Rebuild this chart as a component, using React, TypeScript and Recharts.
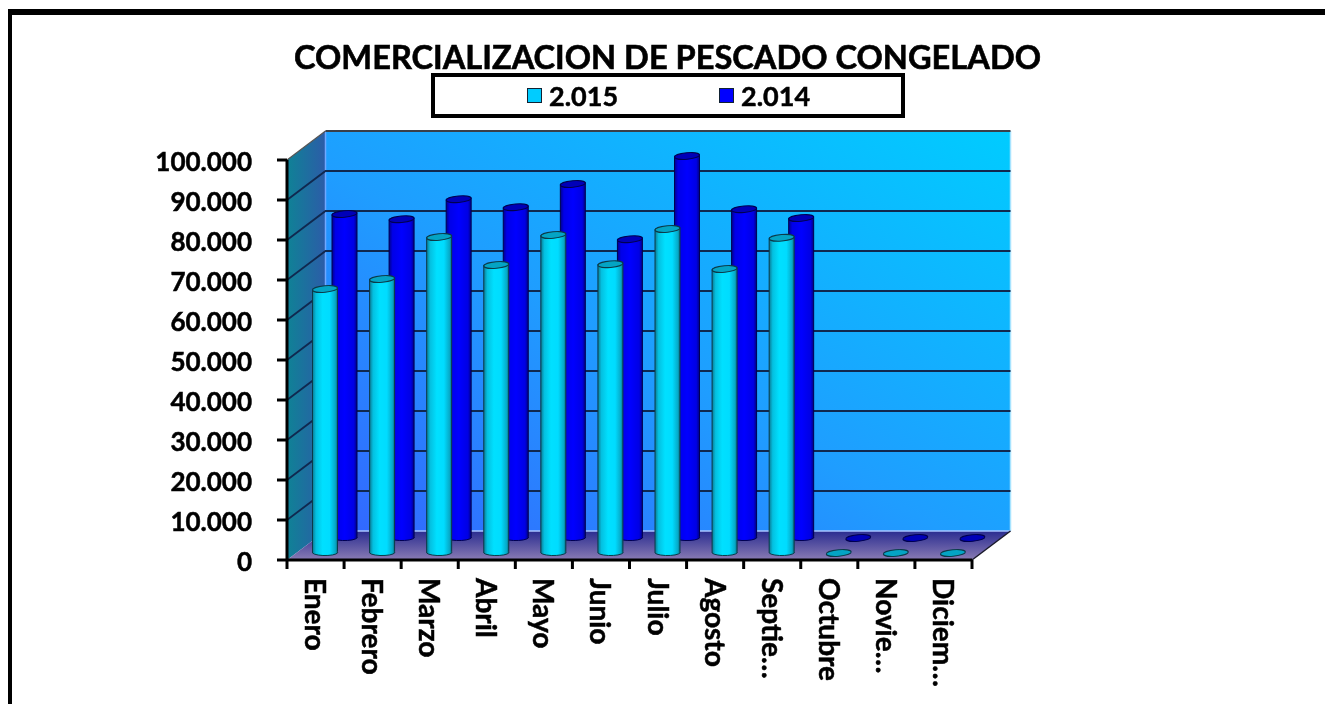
import React from 'react';
import { BarChart, Bar, XAxis, YAxis, CartesianGrid, Legend } from 'recharts';

const months = ['Enero', 'Febrero', 'Marzo', 'Abril', 'Mayo', 'Junio', 'Julio', 'Agosto', 'Septie…', 'Octubre', 'Novie…', 'Diciem…'];
const values2015 = [66000, 68500, 79000, 72000, 79500, 72200, 81000, 71000, 78800, 0, 0, 0];
const values2014 = [81000, 79700, 84700, 82700, 88500, 74700, 95500, 82200, 80000, 0, 0, 0];
const yTicks = [0, 10000, 20000, 30000, 40000, 50000, 60000, 70000, 80000, 90000, 100000];

const rows = months.map((m, i) => ({ month: m, a: values2015[i], b: values2014[i] }));

const FONT = 'Lato, "Open Sans", sans-serif';
const W = 1317;
const H = 696;
const PLOT_W = 685;
const PLOT_H = 400;
const LEFT = 279;
const TOP = 152;
const DX = 38.5;
const DY = -29;
const BAND = PLOT_W / months.length;

const fmt = (v: number) => String(v).replace(/\B(?=(\d{3})+$)/g, '.');

function Walls() {
  const l = LEFT, t = TOP, r = LEFT + PLOT_W, b = TOP + PLOT_H;
  return (
    <svg width={W} height={H} style={{ position: 'absolute', left: 0, top: 0 }}>
      <defs>
        <linearGradient id="sideWall" x1="0" y1="0" x2="1" y2="0">
          <stop offset="0" stopColor="#0f8296" />
          <stop offset="1" stopColor="#2c5ca8" />
        </linearGradient>
        <linearGradient id="backWall" x1="0" y1="1" x2="1" y2="0">
          <stop offset="0" stopColor="#3366ff" />
          <stop offset="0.45" stopColor="#1f9dff" />
          <stop offset="1" stopColor="#00ccff" />
        </linearGradient>
        <linearGradient id="floor" x1="0" y1="0" x2="0" y2="1">
          <stop offset="0" stopColor="#2a2c90" />
          <stop offset="1" stopColor="#8a7cb4" />
        </linearGradient>
      </defs>
      <polygon points={`${l},${b} ${l},${t} ${l + DX},${t + DY} ${l + DX},${b + DY}`} fill="url(#sideWall)" />
      <rect x={l + DX} y={t + DY} width={PLOT_W} height={PLOT_H} fill="url(#backWall)" />
      <polygon points={`${l},${b} ${r},${b} ${r + DX},${b + DY} ${l + DX},${b + DY}`} fill="url(#floor)" />
      <line x1={l + DX} y1={t + DY} x2={l + DX} y2={b + DY} stroke="#6fa8ff" strokeWidth={1.5} />
      <line x1={r + DX} y1={t + DY} x2={r + DX} y2={b + DY} stroke="#a8e4ff" strokeWidth={1.5} />
      <line x1={l + DX} y1={b + DY} x2={r + DX} y2={b + DY} stroke="#a9c4ff" strokeWidth={1.5} />
      <line x1={l} y1={t} x2={l + DX} y2={t + DY} stroke="#555" strokeWidth={1.2} />
      <line x1={l + DX} y1={t + DY} x2={r + DX} y2={t + DY} stroke="#3a3f48" strokeWidth={2} />
      <line x1={r} y1={b} x2={r + DX} y2={b + DY} stroke="#1a1a2a" strokeWidth={1.5} />
    </svg>
  );
}

function gridLine(props: any) {
  const { x1, x2, y1, index } = props;
  if (y1 >= TOP + PLOT_H - 1 || y1 <= TOP + 1) return <g key={index} />;
  return (
    <path
      key={index}
      d={`M${x1},${y1} L${x1 + DX},${y1 + DY} L${x2 + DX},${y1 + DY}`}
      fill="none"
      stroke="#10284f"
      strokeWidth={1.8}
    />
  );
}

function makeCylinder(grad: string, topFill: string, stroke: string, dx: number, dy: number) {
  return function Cylinder(props: any) {
    const { x, y, width, height } = props;
    const cx = x + width / 2 + dx;
    const rx = width / 2;
    const ry = 3.2;
    const baseY = y + height + dy;
    const topY = y + dy;
    const rot = `rotate(-5 ${cx} ${topY})`;
    if (height < 1) {
      return <ellipse cx={cx} cy={baseY} rx={rx} ry={ry} fill={topFill} stroke={stroke} strokeWidth={1} transform={rot} />;
    }
    const lx = cx - rx, rxx = cx + rx;
    return (
      <g>
        <path
          d={`M${lx},${topY} L${lx},${baseY} A${rx},${ry} 0 0 0 ${rxx},${baseY - 1.5} L${rxx},${topY - 1.5} Z`}
          fill={`url(#${grad})`}
          stroke={stroke}
          strokeWidth={1}
        />
        <ellipse cx={cx} cy={topY} rx={rx} ry={ry} fill={topFill} stroke={stroke} strokeWidth={1} transform={rot} />
      </g>
    );
  };
}

const Cyl2015 = makeCylinder('cylCyan', '#04a4c4', '#0c3a48', 9.5, -7);
const Cyl2014 = makeCylinder('cylBlue', '#0000b8', '#000050', 29, -22);

function MonthTick(props: any) {
  const { x, y, payload, index } = props;
  const tx = x + 0.5;
  const ty = y + 18;
  return (
    <g>
      <line x1={x - BAND / 2} y1={y} x2={x - BAND / 2} y2={y + 9} stroke="#000" strokeWidth={3} />
      {index === months.length - 1 ? (
        <line x1={x + BAND / 2} y1={y} x2={x + BAND / 2} y2={y + 9} stroke="#000" strokeWidth={3} />
      ) : null}
      <text
        x={tx}
        y={ty}
        transform={`rotate(90 ${tx} ${ty})`}
        dominantBaseline="central"
        fontFamily={FONT}
        fontWeight={700}
        fontSize={28}
        fill="#000"
        stroke="#000"
        strokeWidth={0.5}
      >
        {payload.value}
      </text>
    </g>
  );
}

function LegendBox(props: any) {
  const items = [...(props.payload || [])].reverse();
  const keyLeft = [92, 284];
  return (
    <div
      style={{
        position: 'relative',
        boxSizing: 'border-box',
        width: 474,
        height: 45,
        border: '4px solid #000',
        background: '#fff',
        fontFamily: FONT,
        fontWeight: 700,
        fontSize: 27,
        color: '#000',
        WebkitTextStroke: '0.5px #000',
      }}
    >
      {items.map((it: any, i: number) => (
        <React.Fragment key={it.value}>
          <span
            style={{
              position: 'absolute',
              left: keyLeft[i],
              top: 11,
              width: 15,
              height: 15,
              boxSizing: 'border-box',
              border: '1.5px solid #123',
              background: it.color,
            }}
          />
          <span style={{ position: 'absolute', left: keyLeft[i] + 22, top: 3, lineHeight: '31px' }}>{it.value}</span>
        </React.Fragment>
      ))}
    </div>
  );
}

export default function App() {
  return (
    <div style={{ position: 'relative', width: W, height: H }}>
      <div
        style={{
          position: 'fixed',
          left: 8,
          top: 9,
          width: 1317,
          height: 695,
          boxSizing: 'border-box',
          borderTop: '6px solid #000',
          borderLeft: '4px solid #000',
        }}
      />
      <Walls />
      <div style={{ position: 'absolute', left: 0, top: 0 }}>
        <BarChart
          width={W}
          height={H}
          data={rows}
          margin={{ top: TOP, left: 0, right: W - LEFT - PLOT_W, bottom: 0 }}
          barSize={25}
          barGap={-25}
          barCategoryGap={0}
        >
          <defs>
            <linearGradient id="cylCyan" x1="0" y1="0" x2="1" y2="0">
              <stop offset="0" stopColor="#0a7a94" />
              <stop offset="0.14" stopColor="#04c0e0" />
              <stop offset="0.4" stopColor="#00e0ff" />
              <stop offset="0.68" stopColor="#00dcff" />
              <stop offset="0.9" stopColor="#06aac8" />
              <stop offset="1" stopColor="#0a6478" />
            </linearGradient>
            <linearGradient id="cylBlue" x1="0" y1="0" x2="1" y2="0">
              <stop offset="0" stopColor="#00008c" />
              <stop offset="0.14" stopColor="#0000e8" />
              <stop offset="0.5" stopColor="#0000ff" />
              <stop offset="0.86" stopColor="#0000e4" />
              <stop offset="1" stopColor="#000078" />
            </linearGradient>
          </defs>
          <CartesianGrid vertical={false} horizontal={gridLine} />
          <XAxis
            dataKey="month"
            interval={0}
            height={H - TOP - PLOT_H}
            axisLine={{ stroke: '#000', strokeWidth: 3 }}
            tickLine={false}
            tickSize={0}
            tickMargin={0}
            tick={MonthTick}
          />
          <YAxis
            width={LEFT}
            domain={[0, 100000]}
            ticks={yTicks}
            interval={0}
            tickFormatter={fmt}
            axisLine={{ stroke: '#000', strokeWidth: 3 }}
            tickLine={{ stroke: '#000', strokeWidth: 3 }}
            tickSize={10}
            tickMargin={25}
            tick={{ fontFamily: FONT, fontWeight: 700, fontSize: 26, fill: '#000', stroke: '#000', strokeWidth: 0.5, dy: 2 }}
          />
          <Legend
            verticalAlign="middle"
            align="center"
            layout="horizontal"
            content={LegendBox}
            wrapperStyle={{ left: 423, top: 65, width: 474, height: 45, margin: 0 }}
          />
          <Bar dataKey="b" name="2.014" fill="#0000ff" shape={Cyl2014} isAnimationActive={false} />
          <Bar dataKey="a" name="2.015" fill="#00ccff" shape={Cyl2015} isAnimationActive={false} />
          <text
            x={659.5}
            y={61}
            textAnchor="middle"
            fontFamily={FONT}
            fontWeight={700}
            fontSize={32}
            textLength={747}
            lengthAdjust="spacingAndGlyphs"
            fill="#000"
            stroke="#000"
            strokeWidth={0.6}
          >
            COMERCIALIZACION DE PESCADO CONGELADO
          </text>
        </BarChart>
      </div>
    </div>
  );
}
